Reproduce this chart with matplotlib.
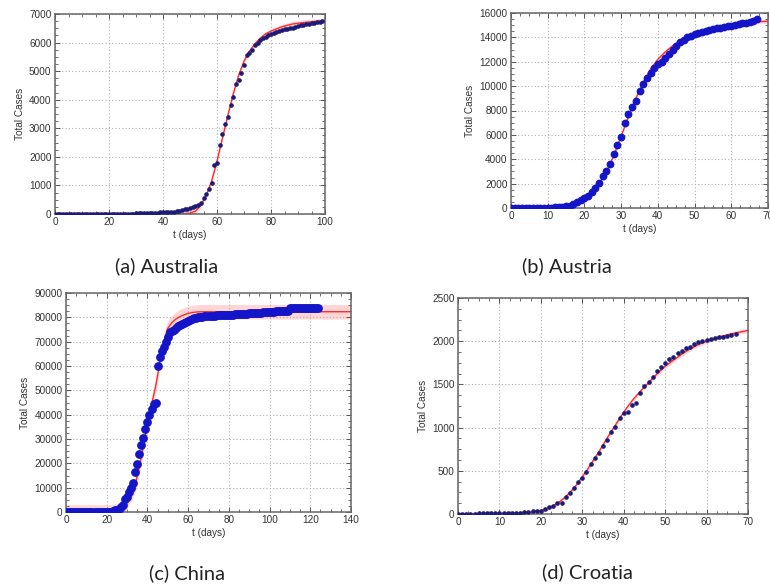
import matplotlib
matplotlib.use("Agg")
import matplotlib.pyplot as plt
import numpy as np
from matplotlib.ticker import MultipleLocator, AutoMinorLocator

# ---------------- data ----------------
aus_cases = [0, 0, 0, 0, 1, 4, 4, 5, 5, 9,
             12, 12, 12, 13, 14, 15, 15, 15, 15, 15,
             15, 15, 15, 15, 15, 15, 15, 15, 15, 15,
             22, 22, 24, 25, 26, 28, 30, 40, 52, 55,
             60, 65, 75, 77, 80, 110, 115, 140, 160, 175,
             195, 230, 280, 330, 400, 550, 700, 870, 1100, 1700,
             1800, 2400, 2800, 3150, 3400, 3800, 4100, 4550, 4700, 4950,
             5200, 5550, 5650, 5750, 5900, 6000, 6100, 6150, 6200, 6250,
             6300, 6330, 6360, 6400, 6430, 6460, 6480, 6500, 6520, 6550,
             6580, 6600, 6620, 6640, 6660, 6680, 6700, 6710, 6730, 6750]
aus_fit_t = [0, 46, 50, 52, 54, 56, 58, 60, 62, 64, 66, 68, 70, 72, 74, 76, 78, 80, 84, 88, 92, 96, 100]
aus_fit = [0, 0, 30, 100, 300, 650, 1150, 1850, 2650, 3450, 4200, 4850, 5350, 5700, 5950, 6150, 6300, 6400, 6550, 6650, 6700, 6740, 6760]
aus_band = 90

aut_cases = [0, 0, 2, 2, 3, 3, 4, 5, 9, 10,
             20, 30, 50, 80, 100, 130, 180, 300, 500, 650,
             800, 1000, 1300, 1650, 2050, 2600, 3000, 3600, 4400, 5200,
             5800, 7000, 7700, 8300, 8800, 9600, 10200, 10700, 11100, 11500,
             11800, 12000, 12300, 12600, 13000, 13300, 13600, 13800, 14000, 14100,
             14250, 14350, 14450, 14550, 14600, 14650, 14750, 14800, 14850, 14900,
             14950, 15000, 15100, 15150, 15200, 15250, 15350, 15500]
aut_fit_t = [0, 12, 15, 17, 18, 19, 20, 22, 24, 26, 28, 30, 32, 34, 36, 38, 40, 42, 44, 46, 48, 50, 52, 55, 58, 61, 64, 67, 70]
aut_fit = [0, 0, 50, 200, 350, 500, 750, 1300, 2000, 3000, 4300, 5900, 7500, 9000, 10300, 11400, 12200, 12800,
           13300, 13700, 14050, 14300, 14500, 14750, 14950, 15100, 15200, 15280, 15330]
aut_band = 180

chn_cases = [0] * 23 + [
    548, 643, 920, 1406, 2075, 2877, 5509,
    6087, 8141, 9802, 11891, 16630, 19716, 23707, 27440, 30587, 34110,
    36814, 39829, 42354, 44386, 44759, 59895, 63800, 66000, 68000, 70000,
    72000, 74000, 74500, 75000, 75500, 76500, 77000, 77300, 77800, 78200,
    78600, 79000, 79300, 79600, 79900, 80100, 80200, 80300, 80400, 80500,
    80600, 80640, 80680, 80720, 80760, 80800, 80850, 80900, 80950, 81000,
    81050, 81100, 81150, 81200, 81260, 81320, 81380, 81440, 81500, 81560,
    81620, 81680, 81740, 81800, 81860, 81920, 81980, 82040, 82100, 82160,
    82220, 82280, 82340, 82400, 82460, 82520, 82580, 82640, 82690, 82720,
    83750, 83780, 83800, 83820, 83840, 83860, 83880, 83900, 83920, 83940,
    83960, 83980, 84000, 84020, 84040]
chn_fit_t = [0, 20, 22, 24, 26, 28, 30, 32, 34, 36, 38, 40, 42, 44, 46, 48, 50, 52, 54, 56, 58, 60, 62, 65, 70, 140]
chn_fit = [0, 0, 100, 300, 1000, 2200, 4500, 7500, 11200, 18500, 27000, 36000, 44000, 51500, 61000, 70000,
           75500, 77800, 79300, 80300, 81000, 81600, 82000, 82250, 82300, 82300]
chn_band = 3000

cro_cases = [1, 1, 3, 3, 5, 6, 7, 9, 10, 11,
             11, 12, 12, 13, 14, 17, 20, 25, 30, 35,
             38, 54, 77, 96, 124, 130, 200, 240, 297, 374,
             413, 490, 575, 645, 710, 790, 856, 945, 1010, 1108,
             1165, 1184, 1262, 1288, 1404, 1481, 1531, 1589, 1659, 1705,
             1751, 1790, 1821, 1860, 1890, 1918, 1937, 1964, 1994, 2006,
             2014, 2025, 2033, 2045, 2052, 2064, 2072, 2083]
cro_fit_t = [0, 5, 10, 15, 18, 20, 22, 24, 26, 28, 30, 32, 34, 36, 38, 40, 42, 44, 46, 48, 50, 52, 54, 56, 58, 60, 62, 64, 66, 68, 70]
cro_fit = [0, 2, 5, 12, 25, 40, 70, 120, 200, 300, 430, 570, 720, 880, 1030, 1180, 1310, 1420, 1520, 1620,
           1710, 1780, 1850, 1910, 1960, 2000, 2035, 2060, 2085, 2105, 2125]
cro_band = 25

captions = ["(a) Australia", "(b) Austria", "(c) China", "(d) Croatia"]
x_label = "t (days)"
y_label = "Total Cases"

# ---------------- figure ----------------
W, H = 770, 586
fig = plt.figure(figsize=(W / 100, H / 100), dpi=100)
fig.patch.set_facecolor("white")


def rect(x0, y0, x1, y1):
    return [x0 / W, 1 - y1 / H, (x1 - x0) / W, (y1 - y0) / H]


panels = [
    dict(cases=aus_cases, ft=aus_fit_t, fv=aus_fit, band=aus_band, r=rect(55, 14, 325, 214),
         xlim=(0, 100), xstep=20, ylim=(0, 7000), ystep=1000, ms=2.3, mc="#1c1c78",
         cap=(167, 266)),
    dict(cases=aut_cases, ft=aut_fit_t, fv=aut_fit, band=aut_band, r=rect(511, 13, 768, 208),
         xlim=(0, 70), xstep=10, ylim=(0, 16000), ystep=2000, ms=4.6, mc="#1414c8",
         cap=(567, 266)),
    dict(cases=chn_cases, ft=chn_fit_t, fv=chn_fit, band=chn_band, r=rect(66, 293, 351, 512),
         xlim=(0, 140), xstep=20, ylim=(0, 90000), ystep=10000, ms=5.3, mc="#1414c8",
         cap=(187, 573)),
    dict(cases=cro_cases, ft=cro_fit_t, fv=cro_fit, band=cro_band, r=rect(458, 298, 748, 514),
         xlim=(0, 70), xstep=10, ylim=(0, 2500), ystep=500, ms=2.3, mc="#1c1c78",
         cap=(587, 572)),
]

tick_font = "Liberation Sans"
for p, cap in zip(panels, captions):
    ax = fig.add_axes(p["r"])
    ft = np.array(p["ft"], dtype=float)
    fv = np.array(p["fv"], dtype=float)
    ax.fill_between(ft, fv - p["band"], fv + p["band"], color="#ffc8c8", alpha=0.75, lw=0, zorder=1)
    ax.plot(ft, fv, color="#ff2a2a", lw=1.0, zorder=2)
    t = np.arange(len(p["cases"]))
    ax.plot(t, p["cases"], "o", ms=p["ms"], color=p["mc"], mec=p["mc"], zorder=3, clip_on=True)
    ax.set_xlim(*p["xlim"])
    ax.set_ylim(*p["ylim"])
    ax.xaxis.set_major_locator(MultipleLocator(p["xstep"]))
    ax.yaxis.set_major_locator(MultipleLocator(p["ystep"]))
    ax.xaxis.set_minor_locator(AutoMinorLocator(4))
    ax.yaxis.set_minor_locator(AutoMinorLocator(4))
    ax.grid(True, which="major", color="#b0b0b0", ls=(0, (1, 2)), lw=0.8)
    ax.tick_params(which="both", direction="in", top=True, right=True, colors="#555555",
                   labelcolor="#333333", labelsize=7.2)
    ax.tick_params(which="major", length=3.5, width=0.7, pad=2.5)
    ax.tick_params(which="minor", length=2, width=0.6)
    for lab in ax.get_xticklabels() + ax.get_yticklabels():
        lab.set_fontfamily(tick_font)
    for s in ax.spines.values():
        s.set_color("#666666")
        s.set_linewidth(1.1)
    ax.set_xlabel(x_label, fontsize=7.2, family=tick_font, color="#333333", labelpad=1.5)
    ax.set_ylabel(y_label, fontsize=7.2, family=tick_font, color="#333333", labelpad=3)
    cx, cy = p["cap"]
    fig.text(cx / W, 1 - cy / H, cap, ha="center", va="center", fontsize=14.5,
             family="Lato", color="#222222")

fig.savefig("out.png", dpi=100, facecolor="white")
